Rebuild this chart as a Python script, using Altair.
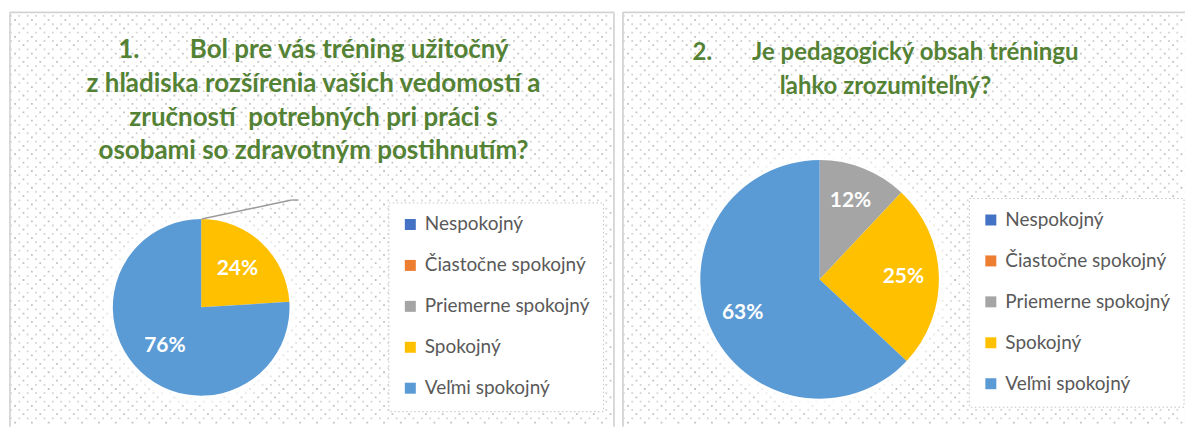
import altair as alt
import pandas as pd
import numpy as np

# ---------------- data ----------------
categories = ["Nespokojný", "Čiastočne spokojný", "Priemerne spokojný", "Spokojný", "Veľmi spokojný"]
colors = ["#4472C4", "#ED7D31", "#A5A5A5", "#FFC000", "#5B9BD5"]
q1_values = [0, 0, 0, 24, 76]
q2_values = [0, 0, 12, 25, 63]

NB = "\u00a0"
title1 = ("1." + NB * 8 + "Bol pre vás tréning užitočný\n"
          "z hľadiska rozšírenia vašich vedomostí a\n"
          "zručností" + NB + " potrebných pri práci s\n"
          "osobami so zdravotným postihnutím?")
title2 = ("2." + NB * 7 + "Je pedagogický obsah tréningu\n"
          "ľahko zrozumiteľný?")

# ---------------- layout ----------------
H = 415
W1 = 605
W2 = 563
GREEN = "#548235"
FONT = "Lato"


def background(W, borders):
    main = pd.DataFrame({"py": np.arange(3.5, H, 8.4)})
    secA = pd.DataFrame({"py": np.arange(7.7, H, 16.8)})
    secB = pd.DataFrame({"py": np.arange(16.1, H, 16.8)})
    enc = dict(y=alt.Y("py:Q", scale=None, axis=None), x=alt.value(0), x2=alt.value(W))
    l1 = alt.Chart(main).mark_rule(strokeWidth=1.8, strokeDash=[1.8, 6.6], color="#d4d4d4").encode(**enc)
    l2 = alt.Chart(secA).mark_rule(strokeWidth=1.8, strokeDash=[1.8, 15.0], strokeDashOffset=12.6,
                                    color="#c2c2c2").encode(**enc)
    l3 = alt.Chart(secB).mark_rule(strokeWidth=1.8, strokeDash=[1.8, 15.0], strokeDashOffset=4.2,
                                    color="#c2c2c2").encode(**enc)
    b = alt.Chart(pd.DataFrame(borders, columns=["bx", "by", "bx2", "by2"])).mark_rule(
        strokeWidth=1.7, color="#d3d3d3").encode(
        x=alt.X("bx:Q", scale=None, axis=None), y=alt.Y("by:Q", scale=None, axis=None),
        x2="bx2:Q", y2="by2:Q")
    return [l1, l2, l3, b]


def panel(values, W, title, tfs, tx, ty, cx, cy, r, lr, lgx, lgy, borders, leader=None):
    df = pd.DataFrame({"cat": categories, "value": values, "idx": list(range(len(categories)))})
    df["label"] = [f"{v}%" for v in values]
    layers = background(W, borders)
    one = pd.DataFrame({"a": [0]})
    for extra, op in [(14, 0.3), (9, 0.35), (5, 0.45), (2, 0.6)]:
        layers.append(alt.Chart(one).mark_arc(radius=r + extra, theta=0, theta2=6.2832,
                                              color="white", opacity=op)
                      .encode(x=alt.value(cx), y=alt.value(cy)))
    base = alt.Chart(df).encode(
        theta=alt.Theta("value:Q", stack=True),
        order=alt.Order("idx:Q", sort="ascending"),
        x=alt.value(cx), y=alt.value(cy),
    )
    arcs = base.mark_arc(radius=r).encode(
        color=alt.Color("cat:N", scale=alt.Scale(domain=categories, range=colors),
                        legend=alt.Legend(orient="none", legendX=lgx, legendY=lgy, title=None,
                                          direction="vertical", symbolType="square", symbolSize=121,
                                          symbolStrokeWidth=0, labelFont=FONT, labelFontSize=19,
                                          labelColor="#595959", labelOffset=5, labelLimit=300,
                                          rowPadding=21, padding=12.5, fillColor="white",
                                          strokeColor="#c4c4c4")))
    labels = base.transform_filter("datum.value > 0").mark_text(
        radius=lr, font=FONT, fontSize=21, fontWeight="bold", color="white", baseline="middle"
    ).encode(text="label:N")
    layers += [arcs, labels]
    layers.append(alt.Chart(one).mark_text(
        text=title, lineBreak="\n", lineHeight=33.8, align="center", baseline="alphabetic",
        font=FONT, fontSize=tfs, fontWeight="bold", color=GREEN
    ).encode(x=alt.value(tx), y=alt.value(ty)))
    if leader is not None:
        layers.append(alt.Chart(pd.DataFrame(leader, columns=["bx", "by", "bx2", "by2"])).mark_rule(
            strokeWidth=1.4, color="#9a9a9a").encode(
            x=alt.X("bx:Q", scale=None, axis=None), y=alt.Y("by:Q", scale=None, axis=None),
            x2="bx2:Q", y2="by2:Q"))
    return alt.layer(*layers).properties(width=W, height=H)


p1 = panel(q1_values, W1, title1, 26, 304, 46, 191.5, 295.5, 88.5, 53, 379, 190.5,
           borders=[[0, 0, W1, 0], [0, 0, 0, H], [W1, 0, W1, H]],
           leader=[[192, 207, 282, 188], [282, 188, 289, 188]])
p2 = panel(q2_values, W2, title2, 24, 263, 48, 197, 267.5, 119.5, 84, 346.5, 186,
           borders=[[0, 0, W2, 0], [0, 0, 0, H]])

chart = alt.hconcat(p1, p2, spacing=9, bounds="flush").resolve_scale(color="independent").resolve_legend(
    color="independent").configure(
    padding={"left": 1, "top": 3, "right": 0, "bottom": 0}, background="white"
).configure_view(stroke=None).configure_legend(strokeDash=[1.5, 2.5], strokeWidth=1)

chart.save("out.html", embed_options={"renderer": "svg", "actions": False})
